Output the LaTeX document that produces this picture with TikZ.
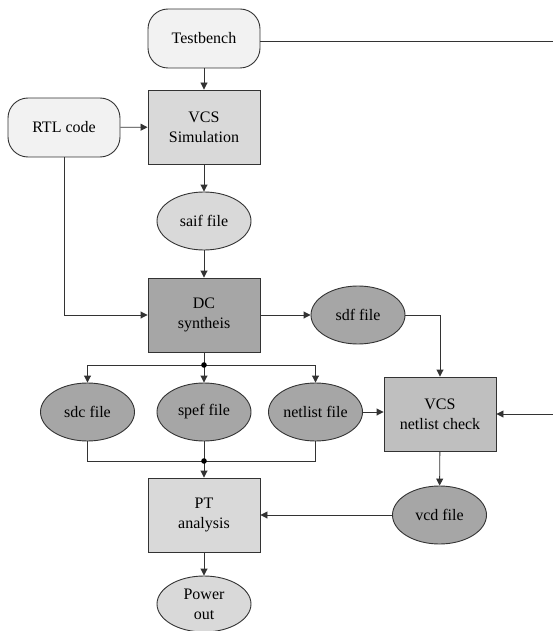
\documentclass[tikz,border=0pt]{standalone}
\usepackage{fontspec}
\setmainfont{Liberation Serif}
\usetikzlibrary{shapes.geometric,arrows.meta}
\definecolor{lightf}{HTML}{F2F2F2}
\definecolor{midf}{HTML}{D9D9D9}
\definecolor{darkf}{HTML}{A6A6A6}
\definecolor{chkf}{HTML}{BFBFBF}
\definecolor{linec}{HTML}{333333}
\begin{document}
\begin{tikzpicture}[x=1pt,y=-1pt,
  every node/.style={font=\fontsize{16}{20}\selectfont, align=center, draw=linec, line width=0.9pt, inner sep=0pt},
  roundbox/.style={rectangle, rounded corners=20pt, minimum width=112pt, minimum height=59pt},
  procbox/.style={rectangle, minimum width=112pt, minimum height=74pt},
  fileell/.style={ellipse, minimum width=94pt, minimum height=58pt},
  conn/.style={draw=linec, line width=0.9pt, -{Triangle[length=7pt,width=7pt]}},
  plain/.style={draw=linec, line width=0.9pt}]
\useasboundingbox (0,0) rectangle (553,631);
\node[roundbox, fill=lightf] (tb) at (204,38.5) {Testbench};
\node[roundbox, fill=lightf] (rtl) at (64,127.5) {RTL code};
\node[procbox, fill=midf] (vcs) at (204,127) {VCS\\Simulation};
\node[fileell, fill=midf] (saif) at (204,221) {saif file};
\node[procbox, fill=darkf] (dc) at (204,315) {DC\\syntheis};
\node[fileell, fill=darkf] (sdf) at (358,315) {sdf file};
\node[fileell, fill=darkf] (sdc) at (87.5,412) {sdc file};
\node[fileell, fill=darkf] (spef) at (204,412) {spef file};
\node[fileell, fill=darkf] (net) at (315.5,412) {netlist file};
\node[procbox, fill=chkf] (chk) at (440,414) {VCS\\netlist check};
\node[procbox, fill=midf] (pt) at (204,515) {PT\\analysis};
\node[fileell, fill=darkf] (vcd) at (439.5,515) {vcd file};
\node[fileell, fill=midf, minimum height=56pt] (pow) at (204,604) {Power\\out};
\coordinate (j1) at (204,365);
\coordinate (j2) at (204,461);
\coordinate (tbr) at (553,41);
\coordinate (chkin) at (553,414);
% connectors
\draw[plain] (tb.east |- tbr) -- (tbr);
\draw[conn] (chkin) -- (chk.east |- chkin);
\draw[conn] (tb) -- (vcs);
\draw[conn] (rtl) -- (vcs);
\draw[conn] (vcs) -- (saif);
\draw[conn] (saif) -- (dc);
\draw[conn] (rtl.south) |- (dc.west);
\draw[conn] (dc) -- (sdf);
\draw[conn] (sdf.east) -| (chk.north);
\draw[plain] (dc.south) -- (j1);
\draw[conn] (j1) -| (sdc.north);
\draw[conn] (j1) -- (spef.north);
\draw[conn] (j1) -| (net.north);
\draw[conn] (net) -- (chk.west |- net);
\draw[plain] (sdc.south) |- (j2);
\draw[plain] (spef.south) -- (j2);
\draw[plain] (net.south) |- (j2);
\draw[conn] (j2) -- (pt.north);
\draw[conn] (chk) -- (vcd);
\draw[conn] (vcd) -- (pt.east |- vcd);
\draw[conn] (pt) -- (pow);
\fill[black] (j1) circle (2.8pt);
\fill[black] (j2) circle (2.8pt);
\end{tikzpicture}
\end{document}
